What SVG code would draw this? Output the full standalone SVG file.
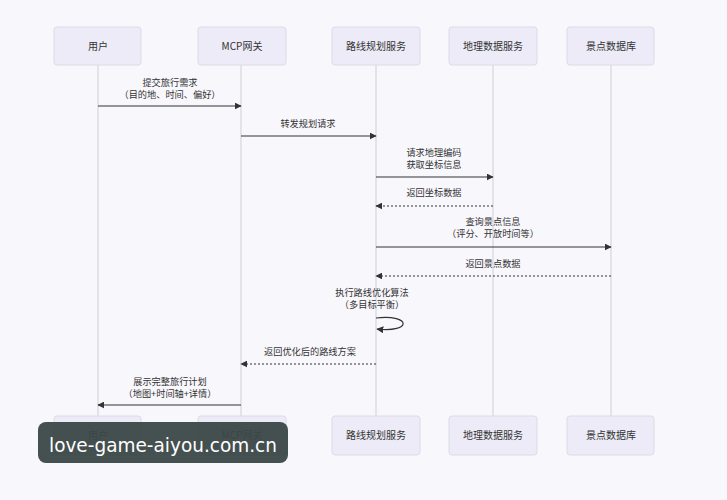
<svg xmlns="http://www.w3.org/2000/svg" width="727" height="500" viewBox="0 0 727 500">
<defs>
<marker id="ah" viewBox="0 0 10 10" refX="9" refY="5" markerWidth="7" markerHeight="7" orient="auto-start-reverse" markerUnits="userSpaceOnUse">
<path d="M0,0 L10,5 L0,10 z" fill="#333"/>
</marker>
<style>
.box{fill:#ecebf7;stroke:#dcdbe8;stroke-width:1}
.bt{font-family:"Noto Sans CJK SC","Liberation Sans",sans-serif;font-size:10px;fill:#333;text-anchor:middle}
.life{stroke:#cfcfd6;stroke-width:1}
.msg{stroke:#333;stroke-width:1.2;fill:none;marker-end:url(#ah)}
.dash{stroke-dasharray:2,2}
.lt{font-family:"Noto Sans CJK SC","Liberation Sans",sans-serif;font-size:9.2px;fill:#333;text-anchor:middle}
</style>
</defs>
<rect width="727" height="500" fill="#f8f7fc"/>
<g id="lifelines">
<line class="life" x1="98" y1="65" x2="98" y2="416"/>
<line class="life" x1="241" y1="65" x2="241" y2="416"/>
<line class="life" x1="376" y1="65" x2="376" y2="416"/>
<line class="life" x1="493" y1="65" x2="493" y2="416"/>
<line class="life" x1="611" y1="65" x2="611" y2="416"/>
</g>
<g id="user">
<rect class="box" x="54" y="27" width="87" height="38" rx="3"/>
<text class="bt" x="98" y="49.5">用户</text>
<rect class="box" x="54" y="416" width="87" height="39" rx="3"/>
<text class="bt" x="98" y="439">用户</text>
</g>
<g id="gateway">
<rect class="box" x="198" y="27" width="88" height="38" rx="3"/>
<text class="bt" x="242" y="49.5">MCP网关</text>
<rect class="box" x="198" y="416" width="88" height="39" rx="3"/>
<text class="bt" x="242" y="439">MCP网关</text>
</g>
<g id="route">
<rect class="box" x="332" y="27" width="88" height="38" rx="3"/>
<text class="bt" x="376" y="49.5">路线规划服务</text>
<rect class="box" x="332" y="416" width="88" height="39" rx="3"/>
<text class="bt" x="376" y="439">路线规划服务</text>
</g>
<g id="geo">
<rect class="box" x="449" y="27" width="88" height="38" rx="3"/>
<text class="bt" x="493" y="49.5">地理数据服务</text>
<rect class="box" x="449" y="416" width="88" height="39" rx="3"/>
<text class="bt" x="493" y="439">地理数据服务</text>
</g>
<g id="poi">
<rect class="box" x="567" y="27" width="87" height="38" rx="3"/>
<text class="bt" x="611" y="49.5">景点数据库</text>
<rect class="box" x="567" y="416" width="87" height="39" rx="3"/>
<text class="bt" x="611" y="439">景点数据库</text>
</g>
<g id="connectors">
<line class="msg" x1="98" y1="106" x2="241" y2="106"/>
<text class="lt" x="170" y="85.5">提交旅行需求</text>
<text class="lt" x="170" y="98">（目的地、时间、偏好）</text>
<line class="msg" x1="241" y1="136" x2="376" y2="136"/>
<text class="lt" x="308" y="127">转发规划请求</text>
<line class="msg" x1="376" y1="177" x2="493" y2="177"/>
<text class="lt" x="434" y="155.5">请求地理编码</text>
<text class="lt" x="434" y="168">获取坐标信息</text>
<line class="msg dash" x1="493" y1="206" x2="376" y2="206"/>
<text class="lt" x="434" y="196">返回坐标数据</text>
<line class="msg" x1="376" y1="247" x2="611" y2="247"/>
<text class="lt" x="493" y="224.5">查询景点信息</text>
<text class="lt" x="493" y="237">（评分、开放时间等）</text>
<line class="msg dash" x1="611" y1="276" x2="376" y2="276"/>
<text class="lt" x="493" y="267">返回景点数据</text>
<path class="msg" d="M376,318 C412,314 412,333 377,329"/>
<text class="lt" x="372" y="295.5">执行路线优化算法</text>
<text class="lt" x="372" y="308">（多目标平衡）</text>
<line class="msg dash" x1="376" y1="364" x2="241" y2="364"/>
<text class="lt" x="310" y="355">返回优化后的路线方案</text>
<line class="msg" x1="241" y1="405" x2="98" y2="405"/>
<text class="lt" x="170" y="384.5">展示完整旅行计划</text>
<text class="lt" x="170" y="397">（地图+时间轴+详情）</text>
</g>
<g id="watermark">
<rect x="38" y="422" width="250" height="41" rx="8" fill="#3b4747" fill-opacity="0.95"/>
<text x="163" y="452" font-family="DejaVu Sans,sans-serif" font-size="19" fill="#ffffff" text-anchor="middle" textLength="228" lengthAdjust="spacingAndGlyphs">love-game-aiyou.com.cn</text>
</g>
</svg>
